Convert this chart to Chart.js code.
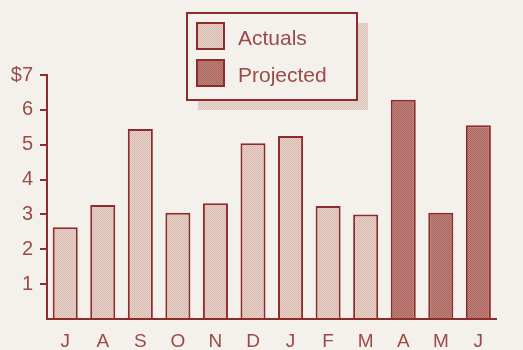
<!DOCTYPE html>
<html>
<head>
<meta charset="utf-8">
<script src="https://cdn.jsdelivr.net/npm/chart.js@4/dist/chart.umd.min.js"></script>
<style>
  html, body { margin: 0; padding: 0; background: #f4f1ec; }
  #wrap { width: 523px; height: 350px; position: relative; }
</style>
</head>
<body>
<div id="wrap"><canvas id="c" width="523" height="350"></canvas></div>
<script>
// Monthly figures, July through June (dollars)
const months = ['J', 'A', 'S', 'O', 'N', 'D', 'J', 'F', 'M', 'A', 'M', 'J'];
const actuals = [2.63, 3.27, 5.45, 3.05, 3.32, 5.04, 5.25, 3.24, 3.0, null, null, null];
const projected = [null, null, null, null, null, null, null, null, null, 6.29, 3.05, 5.56];
const yTickLabels = ['', '1', '2', '3', '4', '5', '6', '$7'];
const seriesNames = ['Actuals', 'Projected'];

const INK = '#8e2c2c';
const TEXT = '#9b4a48';
const FONT = '"Liberation Sans", Arial, Helvetica, sans-serif';

// Dithered fill, like an old halftone print
function dither(a, b) {
  const p = document.createElement('canvas');
  p.width = 2; p.height = 2;
  const g = p.getContext('2d');
  g.fillStyle = a; g.fillRect(0, 0, 2, 2);
  g.fillStyle = b; g.fillRect(0, 0, 1, 1); g.fillRect(1, 1, 1, 1);
  return g.createPattern(p, 'repeat');
}
const ctx = document.getElementById('c').getContext('2d');
const fillActual = dither('#e8d4ca', '#d6b8ae');
const fillProjected = dither('#bf8680', '#a9625c');

const toPoints = arr => arr.map((v, i) => ({ x: i, y: v }));

// Boxed legend with a drop shadow, top centre
const boxLegend = {
  id: 'boxLegend',
  afterDraw(chart) {
    const c = chart.ctx;
    const L = 187, T = 13, W = 170, H = 87;
    c.save();
    c.fillStyle = dither('#dcc3ba', '#e9d8d0');
    c.fillRect(L + 11, T + 10, W, H);
    c.fillStyle = '#f4f1ec';
    c.fillRect(L, T, W, H);
    c.strokeStyle = INK; c.lineWidth = 2;
    c.strokeRect(L, T, W, H);
    const fills = [fillActual, fillProjected];
    chart.data.datasets.forEach((ds, i) => {
      const y = T + 10 + i * 37;
      c.fillStyle = fills[i];
      c.fillRect(L + 10, y, 27, 26);
      c.strokeStyle = INK; c.lineWidth = 2;
      c.strokeRect(L + 10, y, 27, 26);
      c.fillStyle = TEXT;
      c.font = '21px ' + FONT;
      c.textBaseline = 'alphabetic';
      c.textAlign = 'left';
      c.fillText(ds.label, L + 51, y + 22);
    });
    c.restore();
  }
};

new Chart(ctx, {
  type: 'bar',
  data: {
    datasets: [
      { label: seriesNames[0], data: toPoints(actuals), backgroundColor: fillActual, borderColor: INK, borderWidth: 2 },
      { label: seriesNames[1], data: toPoints(projected), backgroundColor: fillProjected, borderColor: INK, borderWidth: 2 }
    ]
  },
  options: {
    responsive: false,
    animation: false,
    devicePixelRatio: 1,
    layout: { padding: { top: 75, right: 27, left: 0, bottom: 0 } },
    plugins: { legend: { display: false }, tooltip: { enabled: false } },
    datasets: { bar: { grouped: false, categoryPercentage: 1, barPercentage: 0.667, borderSkipped: 'bottom' } },
    scales: {
      x: {
        type: 'linear',
        offset: false,
        min: -0.485,
        max: 11.47,
        grid: { display: false },
        border: { display: true, color: INK, width: 2 },
        afterFit: s => { s.height = 31; },
        afterBuildTicks: s => { s.ticks = months.map((m, i) => ({ value: i })); },
        ticks: {
          autoSkip: false,
          maxRotation: 0,
          padding: 3,
          color: TEXT,
          font: { family: FONT, size: 19 },
          callback: v => months[v]
        }
      },
      y: {
        min: 0,
        max: 7,
        afterFit: s => { s.width = 47; },
        grid: {
          display: true, drawOnChartArea: false, tickLength: 7, lineWidth: 2,
          color: c => (c.tick && c.tick.value === 0) ? 'rgba(0,0,0,0)' : INK
        },
        border: { display: true, color: INK, width: 2 },
        ticks: {
          stepSize: 1,
          padding: 7,
          color: TEXT,
          font: { family: FONT, size: 20 },
          callback: v => yTickLabels[v]
        }
      }
    }
  },
  plugins: [boxLegend]
});
</script>
</body>
</html>
